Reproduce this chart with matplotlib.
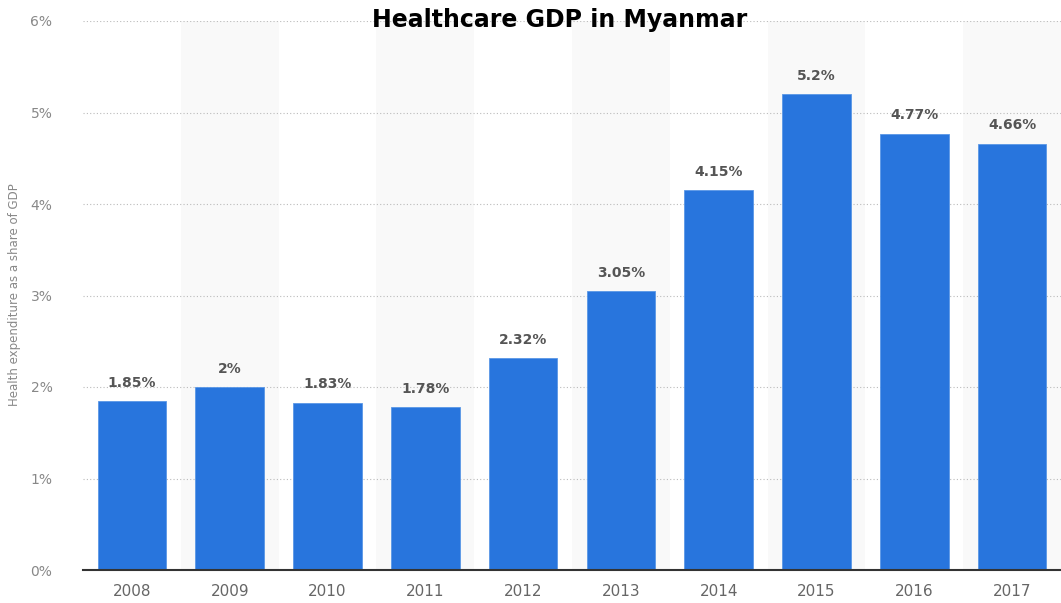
import matplotlib
matplotlib.use("Agg")
import matplotlib.pyplot as plt
from matplotlib.ticker import FuncFormatter

years = ["2008", "2009", "2010", "2011", "2012", "2013", "2014", "2015", "2016", "2017"]
values = [1.85, 2.0, 1.83, 1.78, 2.32, 3.05, 4.15, 5.2, 4.77, 4.66]
labels = ["1.85%", "2%", "1.83%", "1.78%", "2.32%", "3.05%", "4.15%", "5.2%", "4.77%", "4.66%"]
yticks = [0, 1, 2, 3, 4, 5, 6]

plt.rcParams['font.family'] = ['DejaVu Sans']

fig = plt.figure(figsize=(10.61, 6.03), dpi=100)
ax = fig.add_axes([83/1061, 1 - 570/603, (1061 - 83)/1061, (570 - 21)/603])

x = list(range(len(years)))
for i in x:
    if i % 2 == 1:
        ax.axvspan(i - 0.5, i + 0.5, color='#f9f9f9', zorder=0, lw=0)

ax.set_axisbelow(True)
ax.yaxis.grid(True, linestyle=(0, (1, 2)), color='#bbbbbb', linewidth=0.8, zorder=1)
bars = ax.bar(x, values, width=0.7, color='#2875dd', zorder=3, edgecolor='#5a97e6', linewidth=0.6)

for xi, v, lab in zip(x, values, labels):
    ax.annotate(lab, (xi, v), xytext=(0, 8), textcoords='offset points',
                ha='center', va='bottom', fontsize=10, fontweight='bold', color='#555555', zorder=4)

ax.set_xlim(-0.5, len(years) - 0.5)
ax.set_ylim(0, 6)
ax.set_yticks(yticks)
ax.yaxis.set_major_formatter(FuncFormatter(lambda v, p: f"{int(v)}%"))
ax.set_xticks(x)
ax.set_xticklabels(years)

for s in ['top', 'right', 'left']:
    ax.spines[s].set_visible(False)
ax.spines['bottom'].set_color('#333333')
ax.spines['bottom'].set_linewidth(1.5)
ax.spines['bottom'].set_zorder(5)

ax.tick_params(axis='y', length=0, pad=22, labelsize=10, labelcolor='#888888')
ax.tick_params(axis='x', length=0, pad=10, labelsize=11, labelcolor='#666666')

fig.text(15/1061, 1 - 295/603, "Health expenditure as a share of GDP", rotation=90,
         ha='center', va='center', fontsize=8.5, color='#888888')

fig.text(560/1061, 1 - 20/603, "Healthcare GDP in Myanmar", ha='center', va='center',
         fontsize=17, fontweight='bold', color='black')

fig.savefig("out.png", dpi=100)
